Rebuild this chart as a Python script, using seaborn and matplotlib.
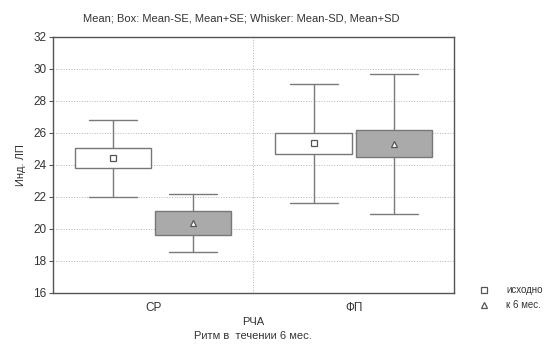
import numpy as np
import pandas as pd
import matplotlib
matplotlib.use('Agg')
import matplotlib.pyplot as plt
from matplotlib.lines import Line2D
import seaborn as sns

# данные
groups = ['СР', 'СР', 'ФП', 'ФП']
periods = ['исходно', 'к 6 мес.', 'исходно', 'к 6 мес.']
means = [24.45, 20.4, 25.35, 25.3]
se_low = [23.8, 19.6, 24.7, 24.5]
se_high = [25.05, 21.15, 26.0, 26.2]
sd_low = [22.0, 18.55, 21.6, 20.95]
sd_high = [26.8, 22.2, 29.05, 29.7]
y_ticks = [16, 18, 20, 22, 24, 26, 28, 30, 32]

df = pd.DataFrame({'group': groups, 'period': periods, 'mean': means})

sns.set_style('white')
plt.rcParams['font.family'] = ['Liberation Sans', 'DejaVu Sans']

fig = plt.figure(figsize=(5.48, 3.45), dpi=100)
ax = fig.add_axes([0.097, 0.151, 0.731, 0.742])

sns.pointplot(data=df, x='group', y='mean', hue='period', dodge=0.4,
              markers=['s', '^'], linestyle='none', palette=['#555555', '#555555'],
              markersize=4, errorbar=None, ax=ax, zorder=5)
if ax.get_legend():
    ax.get_legend().remove()
for ln in ax.lines:
    ln.set_markerfacecolor('white')
    ln.set_markeredgecolor('#555555')
    ln.set_markeredgewidth(0.9)

# боксы: среднее ± SE, усы: среднее ± SD
cat_idx = {'СР': 0, 'ФП': 1}
offs = {'исходно': -0.2, 'к 6 мес.': 0.2}
for i in range(len(groups)):
    pos = cat_idx[groups[i]] + offs[periods[i]]
    st = [dict(med=means[i], q1=se_low[i], q3=se_high[i],
               whislo=sd_low[i], whishi=sd_high[i], fliers=[])]
    face = 'white' if periods[i] == 'исходно' else '#aaaaaa'
    ax.bxp(st, positions=[pos], widths=0.38, patch_artist=True, manage_ticks=False,
           boxprops=dict(facecolor=face, edgecolor='#777777', linewidth=1.0),
           whiskerprops=dict(color='#7a7a7a', linewidth=1.0),
           capprops=dict(color='#7a7a7a', linewidth=1.0),
           medianprops=dict(linestyle='none'), capwidths=0.24, zorder=2)

ax.set_xlim(-0.5, 1.5)
ax.set_ylim(16, 32)
ax.set_yticks(y_ticks)
ax.yaxis.grid(True, linestyle=':', color='#b5b5b5', linewidth=0.7)
ax.axvline(0.5, linestyle=':', color='#b5b5b5', linewidth=0.7, zorder=0)
ax.set_axisbelow(True)

for sp in ax.spines.values():
    sp.set_visible(True)
    sp.set_color('#555555')
    sp.set_linewidth(1.0)

ax.tick_params(axis='y', left=True, direction='out', length=3, width=0.8,
               colors='#555555', labelsize=8.5, labelcolor='#333333', pad=2)
ax.tick_params(axis='x', bottom=False, labelsize=8.5, labelcolor='#333333', pad=3)
ax.set_xlabel('')
ax.set_ylabel('Инд. ЛП', fontsize=8, color='#333333', labelpad=5)

fig.text(0.44, 0.945, 'Mean; Box: Mean-SE, Mean+SE; Whisker: Mean-SD, Mean+SD',
         ha='center', va='center', fontsize=8, color='#333333')
fig.text(0.462, 0.068, 'РЧА', ha='center', va='center', fontsize=8, color='#333333')
fig.text(0.462, 0.027, 'Ритм в  течении 6 мес.', ha='center', va='center',
         fontsize=8, color='#333333')

handles = [Line2D([], [], marker='s', linestyle='none', markersize=4,
                  markerfacecolor='white', markeredgecolor='#555555', markeredgewidth=0.9),
           Line2D([], [], marker='^', linestyle='none', markersize=4,
                  markerfacecolor='white', markeredgecolor='#555555', markeredgewidth=0.9)]
fig.legend(handles, ['исходно', 'к 6 мес.'], loc='center left',
           bbox_to_anchor=(0.874, 0.137), frameon=False, fontsize=7,
           borderpad=0, borderaxespad=0, handlelength=1.0,
           handletextpad=1.8, labelspacing=0.5, labelcolor='#333333')

fig.savefig('out.png', dpi=100)
